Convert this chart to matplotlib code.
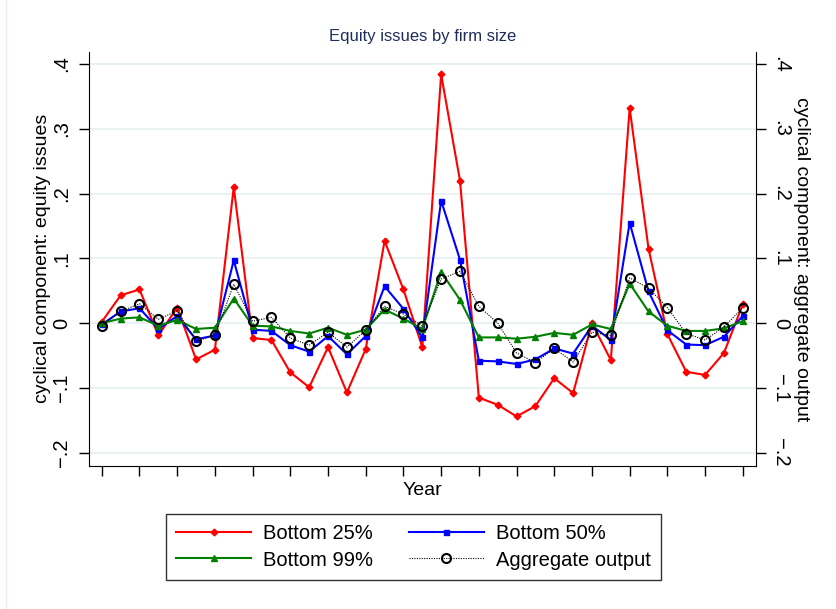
import matplotlib
matplotlib.use("Agg")
import matplotlib.pyplot as plt
import numpy as np
from matplotlib.lines import Line2D

plt.rcParams['font.family'] = ['Liberation Sans', 'DejaVu Sans']

# cyclical components, one point per year (35 years)
bottom25 = [0.002, 0.043, 0.052, -0.019, 0.024, -0.056, -0.041, 0.210, -0.023, -0.026,
            -0.076, -0.099, -0.037, -0.107, -0.040, 0.127, 0.052, -0.037, 0.384, 0.220,
            -0.115, -0.126, -0.144, -0.128, -0.085, -0.108, 0.000, -0.057, 0.332, 0.115,
            -0.017, -0.075, -0.080, -0.046, 0.029]
bottom50 = [-0.002, 0.018, 0.023, -0.009, 0.011, -0.025, -0.019, 0.097, -0.010, -0.012,
            -0.034, -0.044, -0.020, -0.048, -0.020, 0.057, 0.022, -0.022, 0.189, 0.098,
            -0.058, -0.059, -0.063, -0.056, -0.039, -0.047, -0.004, -0.026, 0.155, 0.049,
            -0.011, -0.033, -0.034, -0.021, 0.011]
bottom99 = [0.000, 0.007, 0.009, -0.004, 0.005, -0.009, -0.007, 0.038, -0.004, -0.005,
            -0.012, -0.016, -0.007, -0.018, -0.010, 0.021, 0.007, -0.009, 0.079, 0.036,
            -0.022, -0.022, -0.024, -0.021, -0.015, -0.018, -0.002, -0.009, 0.061, 0.018,
            -0.004, -0.012, -0.012, -0.008, 0.003]
aggregate = [-0.004, 0.018, 0.030, 0.006, 0.019, -0.028, -0.019, 0.060, 0.003, 0.009,
             -0.023, -0.034, -0.014, -0.037, -0.011, 0.026, 0.014, -0.004, 0.068, 0.080,
             0.026, 0.000, -0.046, -0.061, -0.039, -0.060, -0.014, -0.019, 0.070, 0.054,
             0.024, -0.016, -0.026, -0.006, 0.024]
years = np.arange(len(bottom25))

yticks = [-0.2, -0.1, 0.0, 0.1, 0.2, 0.3, 0.4]
ytick_labels = ['\u2212.2', '\u2212.1', '0', '.1', '.2', '.3', '.4']

fig = plt.figure(figsize=(8.37, 6.09), dpi=100)
ax = fig.add_axes([0.1063, 0.2348, 0.7969, 0.6803])

grid_col = '#e8f0f2'
for v in yticks:
    ax.axhline(v, color=grid_col, lw=1.3, zorder=0)

l25, = ax.plot(years, bottom25, color='#ff0000', lw=1.5, marker='D', ms=3.4,
               label='Bottom 25%')
l50, = ax.plot(years, bottom50, color='#0000ff', lw=1.5, marker='s', ms=3.6,
               label='Bottom 50%')
l99, = ax.plot(years, bottom99, color='#008000', lw=1.5, marker='^', ms=3.8,
               label='Bottom 99%')
lag, = ax.plot(years, aggregate, color='black', lw=0.8, ls=(0, (1, 1.2)), marker='o',
               ms=6.5, mfc='none', mec='black', mew=1.5, label='Aggregate output')

ax.set_xlim(-0.68, 34.7)
ax.set_ylim(-0.2205, 0.419)
ax.set_xticks(years[::2])
ax.set_xticklabels([])
ax.set_yticks(yticks)
ax.set_yticklabels(ytick_labels, rotation=90, va='center', fontsize=14.5)
ax.tick_params(axis='x', direction='out', length=7, width=1)
ax.tick_params(axis='y', direction='out', length=7, width=1, pad=6)
ax.spines['top'].set_visible(False)
ax.spines['right'].set_visible(False)
ax.set_xlabel('Year', fontsize=14, labelpad=1)
ax.set_ylabel('cyclical component: equity issues', fontsize=14, labelpad=1)

ax2 = ax.twinx()
ax2.set_ylim(ax.get_ylim())
ax2.set_yticks(yticks)
ax2.set_yticklabels(ytick_labels, rotation=-90, va='center', fontsize=14.5)
ax2.tick_params(axis='y', direction='out', length=7, width=1, pad=4)
ax2.spines['top'].set_visible(False)
ax2.spines['left'].set_visible(False)
ax2.spines['bottom'].set_visible(False)
ax2.set_ylabel('cyclical component: aggregate output', fontsize=14, rotation=-90,
               labelpad=14)

fig.text(0.505, 0.94, 'Equity issues by firm size', ha='center', va='center',
         fontsize=12, color='#1f2d5c')

leg = fig.legend([l25, l99, l50, lag],
                 ['Bottom 25%', 'Bottom 99%', 'Bottom 50%', 'Aggregate output'],
                 ncol=2, loc='center', bbox_to_anchor=(0.494, 0.1018), fontsize=14.5,
                 frameon=True, fancybox=False, edgecolor='black', handlelength=3.7,
                 handletextpad=0.6, columnspacing=1.8, labelspacing=0.35,
                 borderpad=0.5)
leg.get_frame().set_linewidth(1.0)

fig.add_artist(Line2D([6 / 837, 6 / 837], [0, 1], color='#e6eff0', lw=1,
                      transform=fig.transFigure))

fig.savefig('out.png', dpi=100)
